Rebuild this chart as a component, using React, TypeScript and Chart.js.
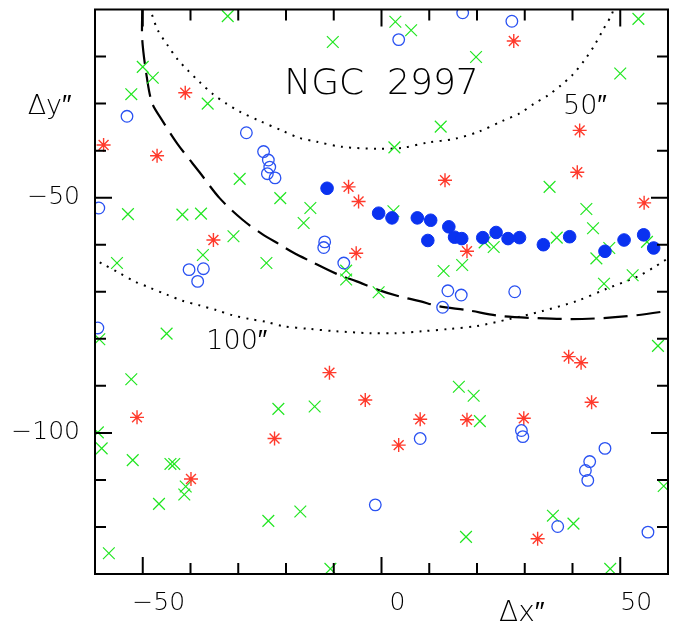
import React, { useEffect, useRef } from 'react';
import { Chart, registerables } from 'chart.js';

Chart.register(...registerables);

const FONT = "'DejaVu Sans', 'Liberation Sans', sans-serif";

// axis ranges and ticks (arcsec)
const xRange = [-60, 60];
const yRange = [-130, -10];
const tickStep = 10;
const labelStep = 50;

// green crosses
const crossPts: [number, number][] = [
  [-32.2, -11.4], [-50.0, -22.2], [-47.9, -24.5], [-52.4, -28.0], [-36.4, -30.0],
  [-29.7, -46.0], [-21.2, -50.1], [2.9, -12.6], [6.2, -14.4], [-10.2, -16.9],
  [19.8, -20.1], [12.4, -34.9], [2.7, -39.3], [-14.9, -52.2], [53.8, -12.0],
  [50.0, -23.6], [35.2, -47.7], [-53.1, -53.5], [-41.7, -53.6], [-37.8, -53.4],
  [-31.0, -58.2], [-37.4, -62.2], [-55.4, -63.9], [-24.1, -63.9], [-59.1, -80.1],
  [-45.0, -78.9], [-52.4, -88.6], [-16.3, -55.4], [2.5, -52.9], [-7.4, -65.5],
  [-7.4, -67.4], [13.0, -65.6], [16.9, -64.3], [-0.6, -70.1], [16.2, -90.2],
  [21.6, -59.5], [23.5, -60.5], [36.7, -58.5], [42.9, -52.4], [44.3, -56.5],
  [55.6, -59.4], [47.7, -60.7], [45.0, -62.9], [46.6, -68.3], [52.6, -66.5],
  [57.9, -81.5], [-59.4, -99.9], [-58.6, -103.3], [-52.1, -105.8], [-44.2, -106.6],
  [-43.4, -106.6], [-41.0, -111.4], [-41.3, -113.1], [-46.6, -115.1], [-57.1, -125.6],
  [-21.6, -94.9], [-23.7, -118.7], [-14.0, -94.4], [19.3, -92.1], [20.6, -97.5],
  [-17.0, -116.7], [17.7, -122.1], [-10.7, -128.9], [59.1, -111.3], [35.9, -117.6],
  [40.2, -119.3], [47.9, -128.9],
];

// red asterisks
const starPts: [number, number][] = [
  [-41.1, -27.7], [-58.2, -38.8], [-47.0, -41.1], [-6.9, -47.7], [-4.8, -50.8],
  [13.3, -46.3], [27.7, -16.7], [41.5, -35.7], [41.0, -44.6], [55.0, -51.1],
  [-35.2, -59.0], [-5.3, -61.8], [17.9, -61.4], [-10.9, -87.2], [39.2, -83.8],
  [41.8, -85.1], [-51.2, -96.7], [-39.9, -109.8], [-22.4, -101.2], [-3.4, -93.0],
  [8.1, -97.1], [3.6, -102.6], [17.9, -97.2], [29.8, -96.9], [44.0, -93.5],
  [32.7, -122.5],
];

// blue open circles
const openPts: [number, number][] = [
  [-53.3, -32.7], [-28.3, -36.2], [-24.7, -40.2], [-23.7, -42.0], [-23.4, -43.5],
  [-23.9, -44.9], [-22.3, -45.8], [-59.2, -52.2], [3.6, -16.4], [17.0, -10.7],
  [27.3, -12.5], [-40.3, -65.3], [-37.3, -65.1], [-38.5, -67.8], [-59.4, -77.7],
  [-11.9, -59.4], [-12.1, -60.6], [-7.9, -63.9], [13.9, -69.8], [16.7, -70.7],
  [12.8, -73.3], [27.9, -70.0], [8.1, -101.2], [-1.3, -115.3], [29.3, -99.5],
  [29.6, -100.8], [46.8, -103.3], [43.6, -106.1], [42.7, -108.0], [43.2, -110.1],
  [36.9, -119.9], [55.8, -121.1],
];

// blue filled circles
const filledPts: [number, number][] = [
  [-11.4, -48.0], [-0.6, -53.3], [2.2, -54.3], [7.5, -54.3], [10.3, -54.8],
  [14.1, -56.2], [15.3, -58.4], [16.8, -58.7], [9.7, -59.1], [21.2, -58.5],
  [24.0, -57.4], [26.5, -58.7], [28.9, -58.5], [33.9, -60.0], [39.4, -58.3],
  [46.8, -61.4], [50.8, -59.0], [54.9, -57.9], [57.0, -60.7],
];

// 50" dotted contour
const ring50: [number, number][] = [
  [-48.6, -9.5], [-48.2, -10.7], [-46.9, -14.3], [-44.8, -17.6], [-42.7, -20.6],
  [-40.6, -22.9], [-38.1, -25.4], [-35.4, -27.9], [-32.5, -30.0], [-29.7, -31.7],
  [-25.5, -33.7], [-20.7, -35.8], [-17.2, -37.3], [-13.6, -38.1], [-8.2, -39.2],
  [-1.0, -39.6], [4.4, -39.4], [9.6, -38.3], [15.3, -37.5], [20.3, -36.0],
  [25.3, -33.7], [28.9, -32.1], [32.0, -30.0], [34.8, -28.3], [37.7, -26.0],
  [40.0, -23.9], [42.5, -20.8], [44.6, -17.6], [46.3, -14.5], [48.2, -11.1],
  [48.7, -9.5],
];

// 100" dotted contour
const ring100: [number, number][] = [
  [-60.5, -62.8], [-58.4, -64.1], [-54.9, -66.0], [-51.7, -67.8], [-48.6, -69.1],
  [-45.0, -70.6], [-41.7, -71.9], [-38.1, -72.9], [-34.6, -73.9], [-31.2, -75.0],
  [-27.6, -75.8], [-24.1, -76.4], [-20.7, -77.3], [-15.1, -77.9], [-9.4, -78.4],
  [-2.5, -78.8], [3.1, -78.8], [8.6, -78.4], [14.2, -77.9], [19.9, -77.3],
  [26.8, -75.8], [33.7, -74.1], [40.8, -72.0], [47.3, -69.3], [54.0, -66.6],
  [57.2, -64.7], [59.1, -63.5], [60.5, -62.5],
];

// dashed contour
const dashCurve: [number, number][] = [
  [-50.1, -9.5], [-50.1, -16.5], [-49.0, -25.4], [-48.0, -30.0], [-46.1, -33.3],
  [-42.7, -38.6], [-38.1, -44.6], [-33.9, -50.1], [-29.1, -54.7], [-24.9, -57.8],
  [-21.4, -59.9], [-18.6, -61.6], [-14.5, -63.7], [-9.4, -66.2], [-5.2, -67.8],
  [-0.4, -69.7], [3.8, -71.0], [8.0, -72.0], [12.1, -73.1], [17.8, -73.9],
  [25.3, -75.2], [32.5, -75.6], [39.4, -75.8], [46.3, -75.6], [53.4, -75.0],
  [59.7, -74.1], [60.5, -73.9],
];

// text labels inside/around the frame (data-coordinate anchors)
const labelTexts = ['NGC  2997', '50\u2033', '100\u2033', '\u0394y\u2033', '\u0394x\u2033'];
const labelAnchorX = [0, 42.6, -30.3, -69.5, 29.4];
const labelAnchorY = [-27.9, -32.3, -82.2, -32.3, -140.0];

const labelFontSizes = [36, 27, 27, 27, 28];

const toXY = (pts: [number, number][]) => pts.map(([x, y]) => ({ x, y }));
const fmt = (v: number) => (v < 0 ? '\u2212' + Math.abs(v) : String(v));

const framePlugin = {
  id: 'frameTicks',
  afterDraw(chart: any) {
    const { ctx, chartArea: a, scales } = chart;
    const xs = scales.x;
    const ys = scales.y;
    ctx.save();
    ctx.strokeStyle = '#000';
    ctx.lineWidth = 2;
    ctx.strokeRect(a.left, a.top, a.right - a.left, a.bottom - a.top);
    ctx.beginPath();
    xs.ticks.forEach((t: any) => {
      const v = t.value;
      if (v <= xs.min || v >= xs.max) return;
      const p = xs.getPixelForValue(v);
      const len = v % labelStep === 0 ? 17 : 11;
      ctx.moveTo(p, a.bottom);
      ctx.lineTo(p, a.bottom - len);
      ctx.moveTo(p, a.top);
      ctx.lineTo(p, a.top + len);
    });
    ys.ticks.forEach((t: any) => {
      const v = t.value;
      if (v <= ys.min || v >= ys.max) return;
      const p = ys.getPixelForValue(v);
      const len = v % labelStep === 0 ? 17 : 11;
      ctx.moveTo(a.left, p);
      ctx.lineTo(a.left + len, p);
      ctx.moveTo(a.right, p);
      ctx.lineTo(a.right - len, p);
    });
    ctx.stroke();
    ctx.fillStyle = '#000';
    ctx.textAlign = 'center';
    ctx.textBaseline = 'alphabetic';
    labelTexts.forEach((txt, i) => {
      ctx.font = `200 ${labelFontSizes[i]}px ${FONT}`;
      ctx.fillText(txt, xs.getPixelForValue(labelAnchorX[i]), ys.getPixelForValue(labelAnchorY[i]));
    });
    ctx.restore();
  },
};

const noPad = (s: any) => {
  s.paddingTop = 0;
  s.paddingBottom = 0;
  s.paddingLeft = 0;
  s.paddingRight = 0;
};

export default function App() {
  const ref = useRef<HTMLCanvasElement | null>(null);

  useEffect(() => {
    if (!ref.current) return;
    const tickFont = { family: FONT, size: 25, weight: '200' as any };
    const chart = new Chart(ref.current, {
      type: 'scatter',
      data: {
        datasets: [
          {
            label: 'filled',
            data: toXY(filledPts),
            pointStyle: 'circle',
            pointRadius: 6.3,
            borderWidth: 1,
            borderColor: '#0a32f0',
            backgroundColor: '#0a32f0',
          },
          {
            label: 'open',
            data: toXY(openPts),
            pointStyle: 'circle',
            pointRadius: 5.8,
            borderWidth: 1.3,
            borderColor: '#2a52f2',
            backgroundColor: 'rgba(0,0,0,0)',
          },
          {
            label: 'stars',
            data: toXY(starPts),
            pointStyle: 'star',
            pointRadius: 7,
            borderWidth: 1.4,
            borderColor: '#ff3a2c',
            backgroundColor: '#ff3a2c',
          },
          {
            label: 'crosses',
            data: toXY(crossPts),
            pointStyle: 'crossRot',
            pointRadius: 8.3,
            borderWidth: 1.2,
            borderColor: '#22e622',
            backgroundColor: '#22e622',
          },
          {
            label: 'ring50',
            data: toXY(ring50),
            showLine: true,
            pointRadius: 0,
            borderColor: '#000',
            borderWidth: 2,
            borderDash: [2, 6.3],
            tension: 0.3,
          } as any,
          {
            label: 'ring100',
            data: toXY(ring100),
            showLine: true,
            pointRadius: 0,
            borderColor: '#000',
            borderWidth: 2,
            borderDash: [2, 6.3],
            tension: 0.3,
          } as any,
          {
            label: 'dashed',
            data: toXY(dashCurve),
            showLine: true,
            pointRadius: 0,
            borderColor: '#000',
            borderWidth: 2.2,
            borderDash: [24, 9],
            tension: 0.3,
          } as any,
        ],
      },
      options: {
        animation: false,
        responsive: false,
        layout: { padding: { left: 0, right: 23, top: 2, bottom: 0 } },
        plugins: { legend: { display: false }, tooltip: { enabled: false } },
        scales: {
          x: {
            type: 'linear',
            min: xRange[0],
            max: xRange[1],
            afterFit: (s: any) => { s.height = 54; noPad(s); },
            grid: { display: false, drawTicks: false },
            border: { display: false },
            ticks: {
              stepSize: tickStep,
              autoSkip: false,
              maxRotation: 0,
              padding: 14,
              labelOffset: 16,
              color: '#000',
              font: tickFont,
              callback: (v: any) => (Number(v) % labelStep === 0 ? fmt(Number(v)) : ''),
            },
          },
          y: {
            type: 'linear',
            min: yRange[0],
            max: yRange[1],
            afterFit: (s: any) => { s.width = 95; noPad(s); },
            grid: { display: false, drawTicks: false },
            border: { display: false },
            ticks: {
              stepSize: tickStep,
              autoSkip: false,
              padding: 15,
              color: '#000',
              font: tickFont,
              callback: (v: any) => (Number(v) % labelStep === 0 ? fmt(Number(v)) : ''),
            },
          },
        },
      },
      plugins: [framePlugin],
    });
    return () => chart.destroy();
  }, []);

  return (
    <div style={{ position: 'fixed', left: 0, top: 0, width: 691, height: 628, background: '#fff' }}>
      <canvas ref={ref} width={691} height={628} style={{ width: 691, height: 628, display: 'block' }} />
    </div>
  );
}
